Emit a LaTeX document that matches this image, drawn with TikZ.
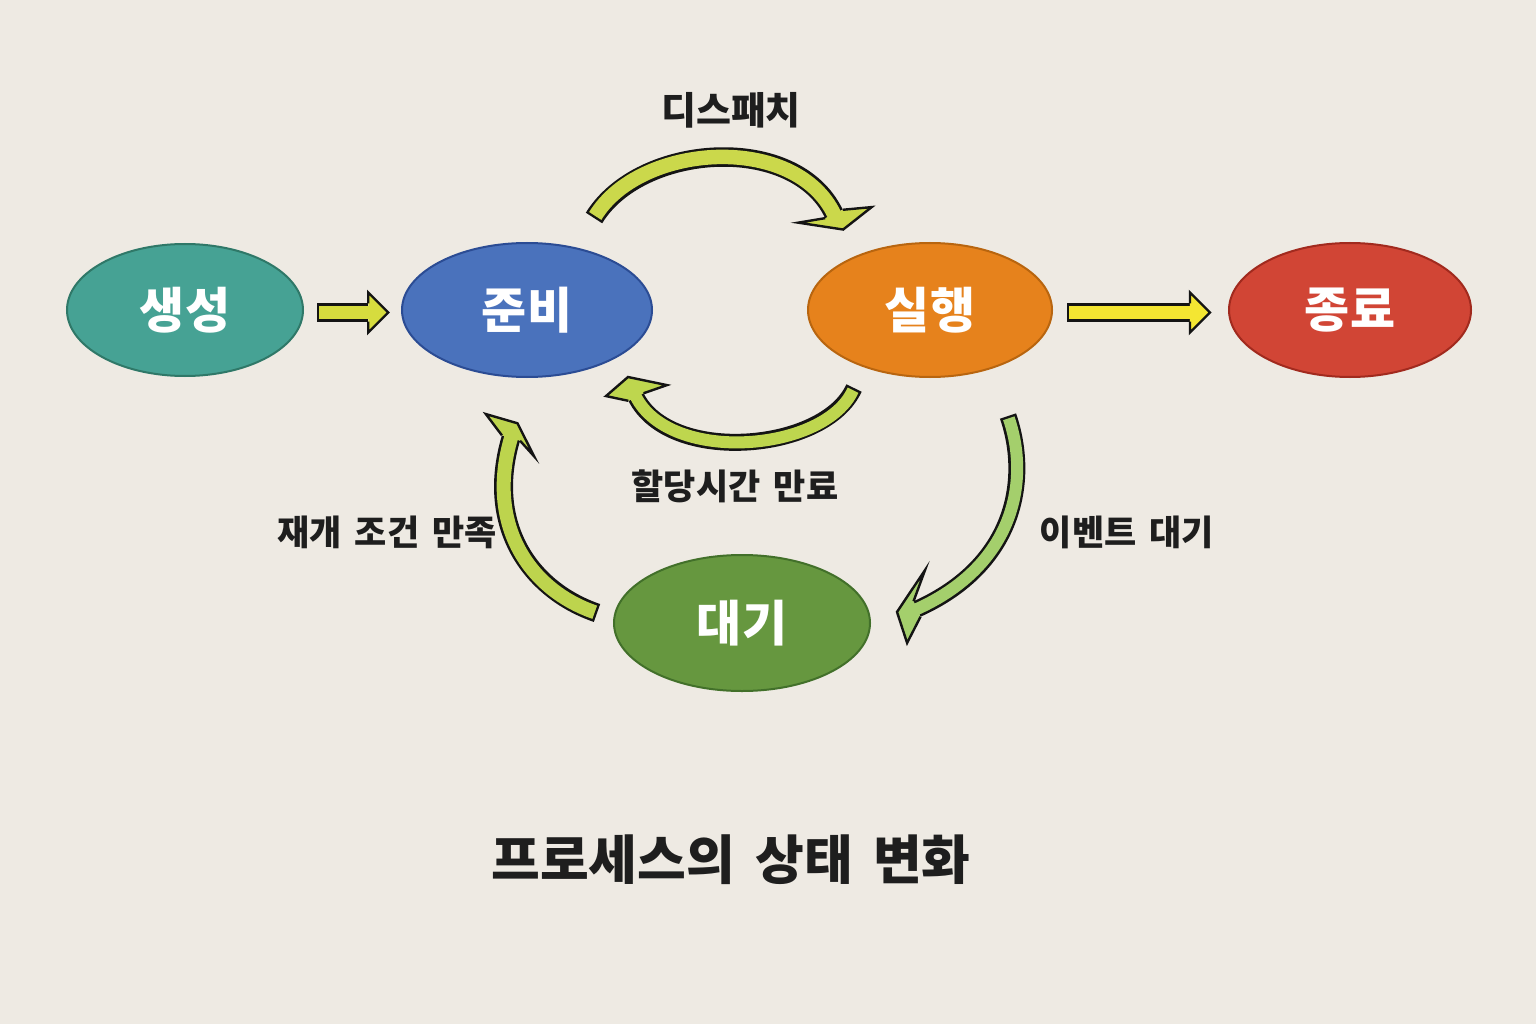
\documentclass[tikz,border=0pt]{standalone}
\usepackage{fontspec}
\setmainfont{Noto Sans CJK KR}
\usetikzlibrary{shapes.geometric,decorations.markings}
\definecolor{bg}{HTML}{EEEAE3}
\definecolor{ink}{HTML}{1E1E1E}
\definecolor{outl}{HTML}{141414}
\definecolor{genF}{HTML}{46A294}\definecolor{genD}{HTML}{2F7868}
\definecolor{rdyF}{HTML}{4A72BC}\definecolor{rdyD}{HTML}{2B4C94}
\definecolor{runF}{HTML}{E6821C}\definecolor{runD}{HTML}{B8650F}
\definecolor{endF}{HTML}{D14535}\definecolor{endD}{HTML}{A12A1E}
\definecolor{waiF}{HTML}{66973F}\definecolor{waiD}{HTML}{42702A}
\definecolor{arA}{HTML}{D6DC3E}
\definecolor{arB}{HTML}{F4E632}
\definecolor{arC}{HTML}{CBD84B}
\definecolor{arD}{HTML}{BED64E}
\definecolor{arE}{HTML}{BDD44D}
\definecolor{arF}{HTML}{A4CF6C}
\newcommand\wgap{\hspace{0.38em}}
% #1 fill colour, #2 outer width, #3 inner width, #4 head polygon (local), #5 path
\newcommand\fatpath[5]{%
  \draw[line width=#2, draw=outl] #5;
  \path[decoration={markings, mark=at position -0.05pt with {\filldraw[fill=#1, draw=outl, line width=2.4, line join=miter, miter limit=20] #4;}}, decorate] #5;
  \draw[line width=#3, draw=#1, shorten <=2.4, shorten >=-1] #5;
}
\tikzset{
  state/.style={ellipse, line width=2, inner sep=0pt,
    font=\fontsize{49}{55}\selectfont\bfseries, text=white},
  lab/.style={font=\fontsize{35}{41}\selectfont\bfseries, text=ink, inner sep=0pt},
}
\begin{document}
\begin{tikzpicture}[x=1pt,y=-1pt]
\useasboundingbox (0,0) rectangle (1536,1024);
\fill[bg] (0,0) rectangle (1536,1024);

% states
\node[state, fill=genF, draw=genD, minimum width=236, minimum height=132] (sgen) at (185,310) {생성};
\node[state, fill=rdyF, draw=rdyD, minimum width=250, minimum height=134] (srdy) at (527,310) {준비};
\node[state, fill=runF, draw=runD, minimum width=244, minimum height=134] (srun) at (930,310) {실행};
\node[state, fill=endF, draw=endD, minimum width=242, minimum height=134] (sterm) at (1350,310) {종료};
\node[state, fill=waiF, draw=waiD, minimum width=256, minimum height=136] (swait) at (742,623) {대기};

% connector end points
\coordinate (a1s) at (317,312.5);  \coordinate (a1e) at (368.3,312.5);
\coordinate (a2s) at (1067,312.5); \coordinate (a2e) at (1190,312.5);
\coordinate (c1s) at (594,218);    \coordinate (c1e) at (834,214);
\coordinate (c2s) at (854,388);    \coordinate (c2e) at (636,397);
\coordinate (c3s) at (597,613);    \coordinate (c3e) at (511,438);
\coordinate (c4s) at (1008,416);   \coordinate (c4e) at (917,609);

% straight arrows
\fatpath{arA}{18.4}{13.4}{(0,9.2) -- (0,20) -- (20,0) -- (0,-20) -- (0,-9.2)}{(a1s) -- (a1e)}
\fatpath{arB}{18.4}{13.4}{(0,9.2) -- (0,20) -- (20,0) -- (0,-20) -- (0,-9.2)}{(a2s) -- (a2e)}

% dispatch
\fatpath{arC}{19.5}{14.5}{(0,9.75) -- (-7.5,36) -- (18,-1.6) -- (10,-37) -- (0,-9.75)}{(c1s) .. controls (640,143) and (795,132) .. (c1e)}
% time-out
\fatpath{arD}{17}{12}{(0,8.5) -- (-3.2,33) -- (21.5,1.8) -- (14.3,-26.4) -- (0,-8.5)}{(c2s) .. controls (825,452) and (670,465) .. (c2e)}
% resume
\fatpath{arE}{19}{14}{(0,9.5) -- (-11,27.5) -- (16,2) -- (15.8,-31) -- (0,-9.5)}{(c3s) .. controls (530,590) and (485,525) .. (c3e)}
% event wait
\fatpath{arF}{17}{12}{(0,8.5) -- (-23.3,32.3) -- (19.5,5.5) -- (23,-26.9) -- (0,-8.5)}{(c4s) .. controls (1030,480) and (1015,565) .. (c4e)}

% labels
\node[lab, font=\fontsize{38}{44}\selectfont\bfseries] (ldisp) at (731,110) {디스패치};
\node[lab] (ltime) at (735,486) {할당시간\wgap 만료};
\node[lab] (lres) at (387,532) {재개\wgap 조건\wgap 만족};
\node[lab] (levt) at (1127,532) {이벤트\wgap 대기};
\node[lab, font=\fontsize{53}{60}\selectfont\bfseries] (ltitle) at (731,860) {프로세스의\wgap 상태\wgap 변화};
\end{tikzpicture}
\end{document}
